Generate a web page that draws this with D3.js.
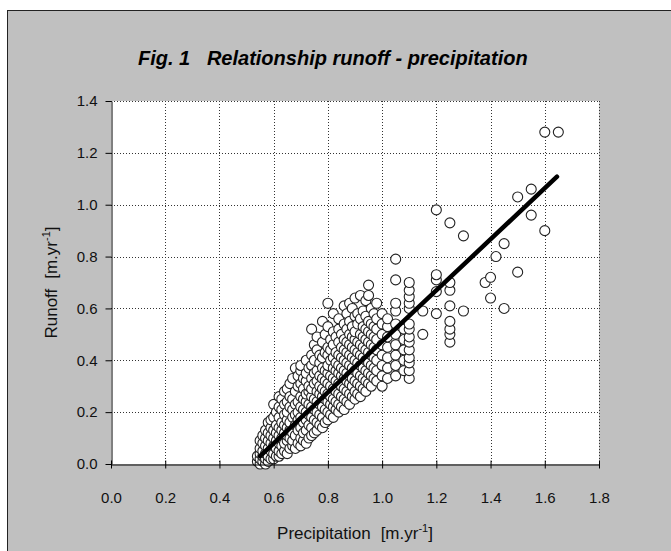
<!DOCTYPE html>
<html><head><meta charset="utf-8">
<script src="https://cdn.jsdelivr.net/npm/d3@7"></script>
<style>body{margin:0;background:#fff}svg{display:block}</style>
</head><body>
<svg id="chart" width="671" height="551"></svg>
<script>
// ---- data ----
const chartTitle = "Fig. 1   Relationship runoff - precipitation";
const xLabel = "Precipitation";
const yLabel = "Runoff";
const unitText = "[m.yr";
const unitSup = "-1";
const xTicks = [0.0, 0.2, 0.4, 0.6, 0.8, 1.0, 1.2, 1.4, 1.6, 1.8];
const yTicks = [0.0, 0.2, 0.4, 0.6, 0.8, 1.0, 1.2, 1.4];
// precipitation value -> runoff values observed at it
const observationGroups = [
  [0.54, [0.01, 0.03]],
  [0.55, [0.00, 0.02, 0.04, 0.06, 0.09]],
  [0.56, [0.01, 0.03, 0.05, 0.08, 0.11]],
  [0.57, [0.00, 0.02, 0.04, 0.07, 0.10, 0.13]],
  [0.58, [0.01, 0.03, 0.06, 0.09, 0.12, 0.16]],
  [0.59, [0.02, 0.05, 0.08, 0.11, 0.14, 0.17]],
  [0.60, [0.02, 0.04, 0.07, 0.10, 0.13, 0.18, 0.23]],
  [0.61, [0.03, 0.06, 0.09, 0.12, 0.15, 0.20]],
  [0.62, [0.03, 0.05, 0.08, 0.11, 0.14, 0.18, 0.22, 0.26]],
  [0.63, [0.04, 0.07, 0.10, 0.13, 0.16, 0.21, 0.25]],
  [0.64, [0.05, 0.08, 0.12, 0.15, 0.19, 0.23, 0.28]],
  [0.65, [0.04, 0.09, 0.11, 0.14, 0.17, 0.20, 0.24, 0.29]],
  [0.66, [0.06, 0.10, 0.13, 0.16, 0.22, 0.26, 0.31]],
  [0.67, [0.07, 0.09, 0.12, 0.18, 0.21, 0.25, 0.33]],
  [0.68, [0.06, 0.11, 0.15, 0.19, 0.23, 0.28, 0.37]],
  [0.69, [0.08, 0.13, 0.17, 0.20, 0.24, 0.30, 0.34]],
  [0.70, [0.07, 0.10, 0.14, 0.18, 0.22, 0.26, 0.31, 0.36, 0.38]],
  [0.71, [0.09, 0.12, 0.16, 0.21, 0.25, 0.29, 0.33]],
  [0.72, [0.08, 0.13, 0.17, 0.20, 0.24, 0.27, 0.32, 0.35, 0.40]],
  [0.73, [0.10, 0.15, 0.19, 0.23, 0.28, 0.30, 0.37]],
  [0.74, [0.11, 0.14, 0.18, 0.22, 0.26, 0.29, 0.33, 0.38, 0.42, 0.52]],
  [0.75, [0.12, 0.17, 0.21, 0.25, 0.31, 0.35, 0.40, 0.46]],
  [0.76, [0.13, 0.16, 0.20, 0.24, 0.28, 0.32, 0.36, 0.44, 0.49]],
  [0.77, [0.15, 0.19, 0.23, 0.27, 0.30, 0.34, 0.39, 0.42]],
  [0.78, [0.14, 0.18, 0.22, 0.26, 0.29, 0.33, 0.37, 0.41, 0.47, 0.55]],
  [0.79, [0.16, 0.21, 0.25, 0.28, 0.32, 0.36, 0.43, 0.50]],
  [0.80, [0.17, 0.20, 0.24, 0.27, 0.31, 0.35, 0.38, 0.42, 0.45, 0.53, 0.62]],
  [0.81, [0.19, 0.23, 0.26, 0.30, 0.34, 0.40, 0.44, 0.48]],
  [0.82, [0.18, 0.22, 0.25, 0.29, 0.33, 0.37, 0.41, 0.46, 0.51, 0.58]],
  [0.83, [0.21, 0.24, 0.28, 0.32, 0.36, 0.39, 0.43, 0.49]],
  [0.84, [0.20, 0.23, 0.27, 0.31, 0.35, 0.38, 0.42, 0.47, 0.52, 0.56]],
  [0.85, [0.22, 0.26, 0.30, 0.34, 0.37, 0.41, 0.45, 0.50]],
  [0.86, [0.21, 0.25, 0.29, 0.33, 0.36, 0.40, 0.44, 0.48, 0.54, 0.61]],
  [0.87, [0.24, 0.28, 0.32, 0.35, 0.39, 0.43, 0.47, 0.52, 0.58]],
  [0.88, [0.23, 0.27, 0.31, 0.34, 0.38, 0.42, 0.46, 0.50, 0.55, 0.62]],
  [0.89, [0.26, 0.30, 0.33, 0.37, 0.41, 0.45, 0.49, 0.53, 0.60]],
  [0.90, [0.25, 0.28, 0.32, 0.36, 0.40, 0.44, 0.48, 0.51, 0.57, 0.64]],
  [0.91, [0.27, 0.31, 0.35, 0.39, 0.43, 0.47, 0.54, 0.58]],
  [0.92, [0.26, 0.30, 0.34, 0.38, 0.42, 0.46, 0.50, 0.56, 0.65]],
  [0.93, [0.29, 0.33, 0.37, 0.41, 0.45, 0.49, 0.53, 0.59]],
  [0.94, [0.28, 0.32, 0.36, 0.40, 0.44, 0.48, 0.52, 0.57, 0.63]],
  [0.95, [0.31, 0.35, 0.39, 0.43, 0.47, 0.51, 0.55, 0.65, 0.69]],
  [0.96, [0.30, 0.34, 0.38, 0.42, 0.46, 0.50, 0.54, 0.60]],
  [0.97, [0.33, 0.37, 0.41, 0.45, 0.49, 0.53, 0.58]],
  [0.98, [0.32, 0.36, 0.40, 0.44, 0.48, 0.52, 0.56, 0.62]],
  [1.00, [0.30, 0.34, 0.38, 0.42, 0.46, 0.50, 0.54, 0.58]],
  [1.02, [0.33, 0.37, 0.41, 0.45, 0.49, 0.53, 0.56]],
  [1.05, [0.34, 0.38, 0.42, 0.46, 0.50, 0.54, 0.59, 0.62, 0.71, 0.79]],
  [1.08, [0.36, 0.40, 0.44, 0.48, 0.52]],
  [1.10, [0.33, 0.36, 0.39, 0.41, 0.44, 0.47, 0.49, 0.52, 0.54, 0.60, 0.62, 0.645, 0.67, 0.70]],
  [1.15, [0.50, 0.59]],
  [1.20, [0.58, 0.665, 0.71, 0.73, 0.98]],
  [1.25, [0.47, 0.50, 0.52, 0.55, 0.61, 0.67, 0.70, 0.93]],
  [1.30, [0.59, 0.88]],
  [1.38, [0.70]],
  [1.40, [0.64, 0.72]],
  [1.42, [0.80]],
  [1.45, [0.60, 0.85]],
  [1.50, [0.74, 1.03]],
  [1.55, [0.96, 1.06]],
  [1.60, [0.90, 1.28]],
  [1.65, [1.28]]
];
// regression line end points [precipitation, runoff]
const regressionLine = [[0.55, 0.03], [1.645, 1.108]];

// ---- drawing ----
const svg = d3.select("#chart");
const W = 671, H = 551;
const plot = {left: 111, right: 599, top: 101, bottom: 464};
const font = "'Liberation Sans', Arial, Helvetica, sans-serif";

svg.append("rect").attr("width", W).attr("height", H).attr("fill", "#fff");
svg.append("rect").attr("x", 7.5).attr("y", 10.5).attr("width", W + 20).attr("height", H + 20)
  .attr("fill", "#c0c0c0").attr("stroke", "#222").attr("stroke-width", 1);

const x = d3.scaleLinear().domain([0, 1.8]).range([plot.left, plot.right]);
const y = d3.scaleLinear().domain([0, 1.4]).range([plot.bottom, plot.top]);

svg.append("rect").attr("x", plot.left).attr("y", plot.top)
  .attr("width", plot.right - plot.left).attr("height", plot.bottom - plot.top).attr("fill", "#fff");

// grid
const grid = svg.append("g").attr("stroke", "#333").attr("stroke-width", 1).attr("stroke-dasharray", "1,2");
grid.selectAll("line.v").data(xTicks.slice(1)).join("line")
  .attr("x1", d => Math.round(x(d)) + 0.5).attr("x2", d => Math.round(x(d)) + 0.5)
  .attr("y1", plot.top).attr("y2", plot.bottom);
grid.selectAll("line.h").data(yTicks.slice(1)).join("line")
  .attr("y1", d => Math.round(y(d)) + 0.5).attr("y2", d => Math.round(y(d)) + 0.5)
  .attr("x1", plot.left).attr("x2", plot.right);

// points
const observations = observationGroups.flatMap(([p, rs]) => rs.map(r => [p, r]));
svg.append("g").selectAll("circle").data(observations).join("circle")
  .attr("cx", d => x(d[0])).attr("cy", d => y(d[1])).attr("r", 5)
  .attr("fill", "#fff").attr("stroke", "#222").attr("stroke-width", 1.1);

// regression line
svg.append("path").datum(regressionLine)
  .attr("d", d3.line().x(d => x(d[0])).y(d => y(d[1])))
  .attr("stroke", "#000").attr("stroke-width", 4.5).attr("stroke-linecap", "round").attr("fill", "none");

// axes
const xAxis = svg.append("g").attr("transform", `translate(0,${Math.round(plot.bottom) + 0.5})`)
  .call(d3.axisBottom(x).tickValues(xTicks).tickFormat(d3.format(".1f")).tickSizeInner(4).tickSizeOuter(0).tickPadding(24));
xAxis.selectAll(".tick line").attr("y1", -4).attr("stroke", "#000");
xAxis.select(".domain").attr("stroke", "#000");
xAxis.selectAll("text").attr("font-family", font).attr("font-size", 15).attr("fill", "#111");

const yAxis = svg.append("g").attr("transform", `translate(${Math.round(plot.left) + 0.5},0)`)
  .call(d3.axisLeft(y).tickValues(yTicks).tickFormat(d3.format(".1f")).tickSizeInner(6).tickSizeOuter(0).tickPadding(8));
yAxis.select(".domain").attr("stroke", "#000");
yAxis.selectAll(".tick line").attr("stroke", "#000");
yAxis.selectAll("text").attr("font-family", font).attr("font-size", 15).attr("fill", "#111");

// title
svg.append("text").attr("x", 138).attr("y", 65)
  .attr("font-family", font).attr("font-size", 20).attr("font-weight", "bold").attr("font-style", "italic")
  .attr("fill", "#000").attr("xml:space", "preserve").style("white-space", "pre").text(chartTitle);

// axis titles
function axisTitle(g, label) {
  g.append("tspan").text(label);
  g.append("tspan").attr("dx", 10).text(unitText);
  g.append("tspan").attr("font-size", 11).attr("dy", -7).text(unitSup);
  g.append("tspan").attr("dy", 7).text("]");
}
const xt = svg.append("text").attr("x", (plot.left + plot.right) / 2).attr("y", 539)
  .attr("text-anchor", "middle").attr("font-family", font).attr("font-size", 17).attr("fill", "#111");
axisTitle(xt, xLabel);
const yt = svg.append("text").attr("transform", `translate(57,${(plot.top + plot.bottom) / 2}) rotate(-90)`)
  .attr("text-anchor", "middle").attr("font-family", font).attr("font-size", 17).attr("fill", "#111");
axisTitle(yt, yLabel);
</script>
</body></html>
